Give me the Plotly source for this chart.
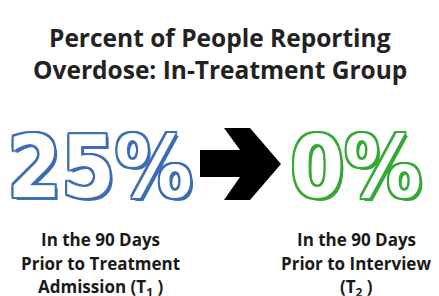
import plotly.graph_objects as go

title_lines = ["Percent of People Reporting", "Overdose: In-Treatment Group"]
periods = ["T1", "T2"]
percent_values = [25, 0]
period_labels = [
    ["In the 90 Days", "Prior to Treatment", "Admission (T<sub>1</sub> )"],
    ["In the 90 Days", "Prior to Interview", "(T<sub>2</sub> )"],
]
outline_colors = ["#3d6db3", "#35a835"]

W, H = 439, 296
OFF = 8  # default page body margin
xpos = [100, 356]

def outline(c, w=2):
    parts = []
    for dx, dy in [(w, 0), (-w, 0), (0, w), (0, -w), (w, w), (-w, -w), (w, -w), (-w, w), (w + 1, w + 1)]:
        parts.append(f"{dx}px {dy}px 0 {c}")
    return ", ".join(parts)

fig = go.Figure()
for i, v in enumerate(percent_values):
    fig.add_trace(go.Scatter(
        x=[xpos[i]], y=[175], mode="text",
        text=[f"{v}%"], textposition="middle center",
        textfont=dict(family="DejaVu Sans Condensed", size=86,
                      weight="bold", color="white", shadow=outline(outline_colors[i])),
        hoverinfo="skip", showlegend=False,
    ))

for i, lines in enumerate(period_labels):
    for j, line in enumerate(lines):
        fig.add_annotation(x=xpos[i], y=239 + 24 * j, xref="x", yref="y", text=line,
                           showarrow=False, xanchor="center", yanchor="middle",
                           font=dict(family="Open Sans", size=17, weight="bold", color="#1a1a1a"))

# arrow
fig.add_shape(type="path", xref="x", yref="y",
              path="M 200 150 L 240 150 L 224 128 L 250 128 L 281 164 L 250 200 L 224 200 L 240 177 L 200 177 Z",
              fillcolor="black", line=dict(width=0))

for j, line in enumerate(title_lines):
    fig.add_annotation(x=W / 2, y=37 + 32 * j, xref="x", yref="y", text=line, showarrow=False,
                       xanchor="center", yanchor="middle",
                       font=dict(family="Open Sans", size=24.5, weight="bold", color="#222222"))

fig.update_xaxes(range=[OFF, W], visible=False, fixedrange=True)
fig.update_yaxes(range=[H, OFF], visible=False, fixedrange=True)
fig.update_layout(width=W - OFF, height=H - OFF, margin=dict(l=0, r=0, t=0, b=0),
                  paper_bgcolor="white", plot_bgcolor="white")
fig.write_html("out.html")
